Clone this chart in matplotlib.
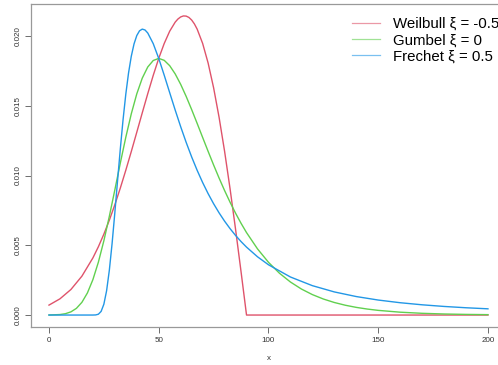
import numpy as np
import matplotlib
matplotlib.use("Agg")
import matplotlib.pyplot as plt

plt.rcParams['font.family'] = ['Liberation Sans', 'DejaVu Sans']

# GEV densities (mu = 50, sigma = 20)
x_weibull = [0, 5, 10, 15, 20, 22.5, 25, 27.5, 30, 32.5, 35, 37.5, 40, 42.5, 45,
             47.5, 50, 52.5, 55, 57.5, 58.75, 60, 61.25, 62.5, 63.75, 65, 66.25,
             67.5, 70, 72.5, 75, 77.5, 80, 82.5, 85, 87.5, 90, 100, 150, 200]
weibull = [0.000712, 0.001162, 0.001832, 0.002787, 0.004093, 0.004893, 0.005796,
           0.006800, 0.007905, 0.009102, 0.010380, 0.011720, 0.013101, 0.014494,
           0.015866, 0.017180, 0.018394, 0.019464, 0.020346, 0.020994, 0.021217,
           0.021367, 0.021438, 0.021427, 0.021331, 0.021145, 0.020867, 0.020497,
           0.019470, 0.018064, 0.016290, 0.014171, 0.011743, 0.009051, 0.006153,
           0.003113, 0.0, 0.0, 0.0, 0.0]

x_gumbel = [0, 5, 7.5, 10, 12.5, 15, 17.5, 20, 22.5, 25, 27.5, 30, 32.5, 35, 37.5,
            40, 42.5, 45, 47.5, 50, 52.5, 55, 57.5, 60, 62.5, 65, 67.5, 70, 72.5,
            75, 77.5, 80, 82.5, 85, 87.5, 90, 95, 100, 105, 110, 115, 120, 125,
            130, 135, 140, 145, 150, 160, 170, 180, 190, 200]
gumbel = [0.0000031, 0.0000359, 0.0000967, 0.000228, 0.000480, 0.000912, 0.001582,
          0.002535, 0.003788, 0.005321, 0.007077, 0.008969, 0.010893, 0.012743,
          0.014423, 0.015852, 0.016980, 0.017779, 0.018245, 0.018394, 0.018257,
          0.017872, 0.017283, 0.016535, 0.015670, 0.014727, 0.013738, 0.012732,
          0.011733, 0.010757, 0.009817, 0.008925, 0.008086, 0.007303, 0.006578,
          0.005910, 0.004743, 0.003781, 0.002998, 0.002368, 0.001865, 0.001465,
          0.001149, 0.000899, 0.000703, 0.000549, 0.000429, 0.000335, 0.000204,
          0.000124, 0.0000751, 0.0000456, 0.0000277]

x_frechet = [0, 10, 17.5, 18.75, 20, 21.25, 22.5, 23.75, 25, 26.25, 27.5, 28.75,
             30, 31.25, 32.5, 33.75, 35, 36.25, 37.5, 38.75, 40, 41.25, 42.5,
             43.75, 45, 47.5, 50, 52.5, 55, 57.5, 60, 62.5, 65, 67.5, 70, 72.5,
             75, 77.5, 80, 82.5, 85, 87.5, 90, 95, 100, 110, 120, 130, 140, 150,
             160, 170, 180, 190, 200]
frechet = [0.0, 0.0, 0.0, 0.0, 0.00000036, 0.00000727, 0.0000585, 0.000260,
           0.000774, 0.001742, 0.003214, 0.005124, 0.007326, 0.009645, 0.011910,
           0.014004, 0.015832, 0.017352, 0.018549, 0.019435, 0.020031, 0.020373,
           0.020494, 0.020431, 0.020216, 0.019450, 0.018394, 0.017190, 0.015936,
           0.014692, 0.013499, 0.012376, 0.011333, 0.010375, 0.009499, 0.008702,
           0.007979, 0.007324, 0.006730, 0.006193, 0.005707, 0.005267, 0.004868,
           0.004176, 0.003603, 0.002727, 0.002106, 0.001657, 0.001325, 0.001075,
           0.000883, 0.000734, 0.000616, 0.000522, 0.000446]

labels = ['Weilbull ξ = -0.5', 'Gumbel ξ = 0', 'Frechet ξ = 0.5']
colors = ['#DF536B', '#61D04F', '#2297E6']

fig = plt.figure(figsize=(4.98, 3.65), dpi=100)
ax = fig.add_axes([0.0631, 0.1041, 0.952, 0.885])

series = [(x_weibull, weibull), (x_gumbel, gumbel), (x_frechet, frechet)]
for (xs, ys), c, lab in zip(series, colors, labels):
    ax.plot(xs, ys, color=c, lw=1.0, label=lab)

ymax = max(max(weibull), max(gumbel), max(frechet))
ax.set_xlim(-8, 208)
ax.set_ylim(-0.04 * ymax, 1.04 * ymax)

ax.set_xticks([0, 50, 100, 150, 200])
ax.set_yticks([0.0, 0.005, 0.010, 0.015, 0.020])
ax.set_yticklabels(['0.000', '0.005', '0.010', '0.015', '0.020'],
                   rotation=90, va='center')
ax.tick_params(axis='both', labelsize=5.8, length=4, width=0.6,
               color='#555555', labelcolor='#333333', pad=3)
ax.set_xlabel('x', fontsize=5.8, color='#333333', labelpad=8)

for s in ax.spines.values():
    s.set_color('#999999')
    s.set_linewidth(0.9)

leg = ax.legend(loc='upper left', bbox_to_anchor=(0.676, 0.960), frameon=False,
                fontsize=10.8, handlelength=1.87, handletextpad=0.87,
                labelspacing=0.16, borderaxespad=0, borderpad=0)
for h, c in zip(leg.get_lines(), colors):
    h.set_color(c)
    h.set_linewidth(0.9)
    h.set_alpha(0.6)

fig.savefig('out.png', dpi=100)
